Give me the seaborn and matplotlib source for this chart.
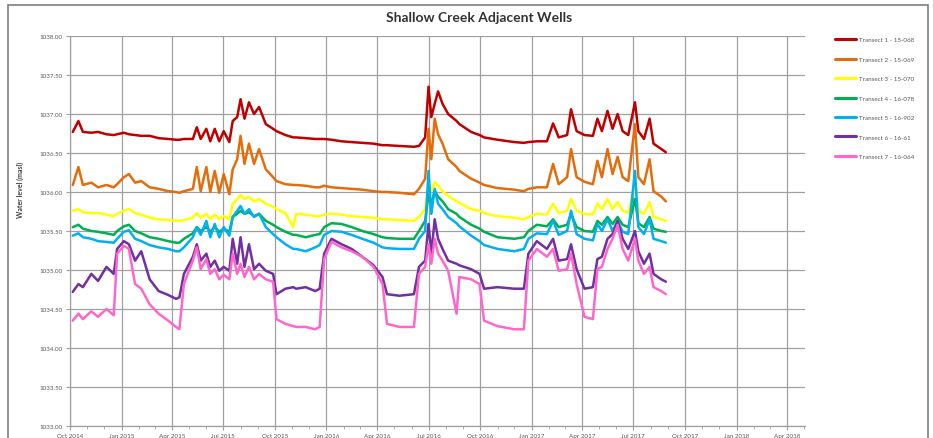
import numpy as np
import pandas as pd
import matplotlib
matplotlib.use("Agg")
import matplotlib.pyplot as plt
import matplotlib.dates as mdates
from matplotlib.ticker import FormatStrFormatter
from matplotlib.patches import Rectangle
import seaborn as sns

dates = [
    "2014-10-06", "2014-10-16", "2014-10-24", "2014-11-08", "2014-11-20", "2014-12-05", "2014-12-18", "2014-12-24",
    "2015-01-05", "2015-01-14", "2015-01-25", "2015-02-05", "2015-02-20", "2015-03-08", "2015-03-25", "2015-04-08",
    "2015-04-14", "2015-04-22", "2015-05-08", "2015-05-15", "2015-05-22", "2015-06-01", "2015-06-08", "2015-06-16",
    "2015-06-24", "2015-07-02", "2015-07-12", "2015-07-18", "2015-07-26", "2015-08-01", "2015-08-08", "2015-08-16",
    "2015-08-25", "2015-09-03", "2015-09-15", "2015-09-28", "2015-10-04", "2015-10-20", "2015-11-03", "2015-11-08",
    "2015-11-25", "2015-12-12", "2015-12-20", "2015-12-28", "2016-01-10", "2016-01-28", "2016-02-15", "2016-03-05",
    "2016-03-25", "2016-04-10", "2016-04-18", "2016-05-10", "2016-06-05", "2016-06-14", "2016-06-25", "2016-07-01",
    "2016-07-06", "2016-07-12", "2016-07-18", "2016-07-26", "2016-08-05", "2016-08-20", "2016-08-25", "2016-09-15",
    "2016-09-30", "2016-10-08", "2016-11-01", "2016-12-01", "2016-12-18", "2016-12-26", "2017-01-10", "2017-01-28",
    "2017-02-08", "2017-02-18", "2017-03-05", "2017-03-12", "2017-03-22", "2017-04-05", "2017-04-20", "2017-04-28",
    "2017-05-06", "2017-05-16", "2017-05-25", "2017-06-03", "2017-06-12", "2017-06-22", "2017-07-04", "2017-07-10",
    "2017-07-20", "2017-07-30", "2017-08-06", "2017-08-20", "2017-08-28",
]

well_1 = [
    1036.77, 1036.91, 1036.77, 1036.76, 1036.77, 1036.74, 1036.73, 1036.74, 1036.76, 1036.74, 1036.73, 1036.72,
    1036.72, 1036.69, 1036.68, 1036.67, 1036.67, 1036.68, 1036.68, 1036.83, 1036.68, 1036.81, 1036.65, 1036.81,
    1036.65, 1036.78, 1036.64, 1036.91, 1036.96, 1037.19, 1036.94, 1037.15, 1037.00, 1037.09, 1036.87, 1036.81,
    1036.78, 1036.73, 1036.70, 1036.70, 1036.69, 1036.68, 1036.68, 1036.68, 1036.67, 1036.65, 1036.64, 1036.63,
    1036.62, 1036.60, 1036.60, 1036.59, 1036.58, 1036.59, 1036.70, 1037.35, 1036.96, 1037.13, 1037.29, 1037.13,
    1037.00, 1036.91, 1036.87, 1036.77, 1036.73, 1036.70, 1036.67, 1036.64, 1036.63, 1036.64, 1036.65, 1036.65,
    1036.88, 1036.70, 1036.73, 1037.06, 1036.78, 1036.73, 1036.72, 1036.94, 1036.78, 1037.04, 1036.81, 1037.00,
    1036.78, 1036.73, 1037.15, 1036.78, 1036.68, 1036.94, 1036.62, 1036.55, 1036.51,
]
well_2 = [
    1036.09, 1036.32, 1036.09, 1036.12, 1036.06, 1036.09, 1036.06, 1036.10, 1036.19, 1036.23, 1036.12, 1036.14,
    1036.06, 1036.04, 1036.01, 1036.00, 1035.99, 1036.01, 1036.04, 1036.32, 1036.01, 1036.32, 1036.00, 1036.27,
    1035.99, 1036.23, 1035.97, 1036.29, 1036.42, 1036.72, 1036.36, 1036.62, 1036.36, 1036.55, 1036.29, 1036.19,
    1036.14, 1036.10, 1036.09, 1036.09, 1036.08, 1036.06, 1036.06, 1036.08, 1036.06, 1036.05, 1036.04, 1036.03,
    1036.01, 1036.00, 1036.00, 1035.99, 1035.97, 1036.04, 1036.17, 1036.81, 1036.42, 1036.94, 1036.74, 1036.62,
    1036.42, 1036.32, 1036.27, 1036.17, 1036.12, 1036.09, 1036.05, 1036.03, 1036.01, 1036.04, 1036.06, 1036.06,
    1036.36, 1036.10, 1036.19, 1036.55, 1036.19, 1036.13, 1036.10, 1036.40, 1036.19, 1036.55, 1036.23, 1036.45,
    1036.19, 1036.14, 1036.87, 1036.19, 1036.10, 1036.42, 1036.01, 1035.94, 1035.88,
]
well_3 = [
    1035.76, 1035.78, 1035.74, 1035.73, 1035.73, 1035.71, 1035.69, 1035.72, 1035.76, 1035.78, 1035.73, 1035.71,
    1035.67, 1035.65, 1035.64, 1035.63, 1035.63, 1035.64, 1035.67, 1035.73, 1035.67, 1035.72, 1035.65, 1035.71,
    1035.65, 1035.69, 1035.65, 1035.85, 1035.91, 1035.96, 1035.91, 1035.94, 1035.88, 1035.91, 1035.85, 1035.81,
    1035.78, 1035.73, 1035.55, 1035.72, 1035.71, 1035.69, 1035.69, 1035.71, 1035.72, 1035.71, 1035.69, 1035.68,
    1035.67, 1035.65, 1035.65, 1035.64, 1035.63, 1035.68, 1035.78, 1036.10, 1036.01, 1036.13, 1036.08, 1036.01,
    1035.95, 1035.88, 1035.86, 1035.78, 1035.76, 1035.73, 1035.69, 1035.67, 1035.65, 1035.68, 1035.72, 1035.71,
    1035.85, 1035.73, 1035.76, 1035.91, 1035.76, 1035.72, 1035.71, 1035.85, 1035.78, 1035.91, 1035.78, 1035.87,
    1035.76, 1035.73, 1036.10, 1035.76, 1035.72, 1035.87, 1035.68, 1035.65, 1035.63,
]
well_4 = [
    1035.55, 1035.58, 1035.53, 1035.50, 1035.49, 1035.47, 1035.45, 1035.50, 1035.56, 1035.58, 1035.50, 1035.47,
    1035.42, 1035.40, 1035.37, 1035.35, 1035.35, 1035.40, 1035.47, 1035.55, 1035.50, 1035.55, 1035.49, 1035.55,
    1035.49, 1035.53, 1035.49, 1035.68, 1035.72, 1035.76, 1035.72, 1035.74, 1035.69, 1035.72, 1035.63, 1035.58,
    1035.55, 1035.49, 1035.45, 1035.45, 1035.42, 1035.45, 1035.46, 1035.55, 1035.60, 1035.59, 1035.55, 1035.50,
    1035.46, 1035.42, 1035.41, 1035.40, 1035.40, 1035.50, 1035.63, 1035.97, 1035.85, 1036.01, 1035.94, 1035.88,
    1035.78, 1035.72, 1035.68, 1035.58, 1035.53, 1035.49, 1035.42, 1035.40, 1035.42, 1035.50, 1035.58, 1035.56,
    1035.65, 1035.55, 1035.58, 1035.72, 1035.55, 1035.50, 1035.49, 1035.63, 1035.58, 1035.68, 1035.59, 1035.68,
    1035.58, 1035.55, 1035.91, 1035.60, 1035.55, 1035.68, 1035.53, 1035.50, 1035.49,
]
well_5 = [
    1035.44, 1035.47, 1035.42, 1035.40, 1035.37, 1035.36, 1035.35, 1035.40, 1035.49, 1035.51, 1035.40, 1035.37,
    1035.32, 1035.29, 1035.27, 1035.24, 1035.24, 1035.29, 1035.42, 1035.55, 1035.45, 1035.63, 1035.42, 1035.59,
    1035.42, 1035.55, 1035.44, 1035.68, 1035.76, 1035.82, 1035.72, 1035.78, 1035.68, 1035.72, 1035.55, 1035.46,
    1035.42, 1035.33, 1035.27, 1035.27, 1035.24, 1035.29, 1035.32, 1035.45, 1035.50, 1035.49, 1035.45, 1035.40,
    1035.35, 1035.29, 1035.28, 1035.27, 1035.27, 1035.40, 1035.50, 1036.27, 1035.72, 1036.04, 1035.85, 1035.78,
    1035.68, 1035.60, 1035.56, 1035.44, 1035.37, 1035.32, 1035.27, 1035.24, 1035.27, 1035.40, 1035.47, 1035.46,
    1035.63, 1035.45, 1035.50, 1035.76, 1035.46, 1035.40, 1035.38, 1035.59, 1035.50, 1035.65, 1035.50, 1035.63,
    1035.49, 1035.46, 1036.27, 1035.55, 1035.46, 1035.65, 1035.40, 1035.37, 1035.35,
]
well_6 = [
    1034.72, 1034.82, 1034.78, 1034.95, 1034.86, 1035.04, 1034.95, 1035.27, 1035.37, 1035.33, 1035.12, 1035.24,
    1034.88, 1034.73, 1034.68, 1034.63, 1034.65, 1034.95, 1035.17, 1035.33, 1035.12, 1035.21, 1035.04, 1035.12,
    1034.99, 1035.04, 1034.99, 1035.40, 1035.08, 1035.42, 1035.04, 1035.33, 1035.01, 1035.08, 1034.99, 1034.95,
    1034.69, 1034.76, 1034.78, 1034.76, 1034.78, 1034.73, 1034.76, 1035.21, 1035.40, 1035.33, 1035.27, 1035.17,
    1035.06, 1034.91, 1034.69, 1034.67, 1034.69, 1035.04, 1035.12, 1035.59, 1035.21, 1035.65, 1035.40, 1035.27,
    1035.12, 1035.08, 1035.06, 1035.01, 1034.95, 1034.76, 1034.78, 1034.76, 1034.76, 1035.21, 1035.37, 1035.27,
    1035.40, 1035.12, 1035.14, 1035.33, 1035.01, 1034.76, 1034.78, 1035.14, 1035.17, 1035.40, 1035.46, 1035.63,
    1035.40, 1035.27, 1035.50, 1035.24, 1035.08, 1035.21, 1034.95, 1034.88, 1034.85,
]
well_7 = [
    1034.35, 1034.44, 1034.37, 1034.47, 1034.40, 1034.50, 1034.42, 1035.21, 1035.31, 1035.27, 1034.82, 1034.76,
    1034.56, 1034.44, 1034.35, 1034.27, 1034.24, 1034.82, 1035.12, 1035.29, 1035.01, 1035.14, 1034.95, 1035.01,
    1034.88, 1034.94, 1034.88, 1035.21, 1034.95, 1035.08, 1034.91, 1035.04, 1034.88, 1034.95, 1034.88, 1034.85,
    1034.37, 1034.31, 1034.28, 1034.27, 1034.27, 1034.24, 1034.27, 1035.14, 1035.36, 1035.29, 1035.24, 1035.17,
    1035.04, 1034.82, 1034.31, 1034.27, 1034.27, 1034.95, 1035.04, 1035.33, 1035.08, 1035.40, 1035.21, 1035.12,
    1034.99, 1034.44, 1034.91, 1034.88, 1034.82, 1034.35, 1034.28, 1034.24, 1034.24, 1035.12, 1035.27, 1035.17,
    1035.27, 1034.99, 1035.01, 1035.21, 1034.82, 1034.40, 1034.37, 1035.01, 1035.04, 1035.27, 1035.40, 1035.58,
    1035.27, 1035.12, 1035.40, 1035.12, 1034.95, 1035.04, 1034.78, 1034.73, 1034.69,
]

labels = [
    "Transect 1 - 15-068", "Transect 2 - 15-069", "Transect 3 - 15-070", "Transect 4 - 16-078",
    "Transect 5 - 16-902", "Transect 6 - 16-61", "Transect 7 - 16-064",
]
colors = ["#C00000", "#E46C0A", "#FFFF00", "#00B050", "#00B0F0", "#7030A0", "#FF66CC"]
y_ticks = [1033.0, 1033.5, 1034.0, 1034.5, 1035.0, 1035.5, 1036.0, 1036.5, 1037.0, 1037.5, 1038.0]

sns.set_style("white")
plt.rcParams["font.family"] = ["Lato", "DejaVu Sans"]

series = [well_1, well_2, well_3, well_4, well_5, well_6, well_7]
frames = []
for lab, vals in zip(labels, series):
    frames.append(pd.DataFrame({"Date": pd.to_datetime(dates), "Level": vals, "Well": lab}))
df = pd.concat(frames, ignore_index=True)

fig = plt.figure(figsize=(9.33, 4.39), dpi=100)
ax = fig.add_axes([70 / 933, 1 - 427 / 439, 735 / 933, 390 / 439])

sns.lineplot(data=df, x="Date", y="Level", hue="Well", palette=colors,
             linewidth=1.8, estimator=None, sort=False, ax=ax)

ax.set_xlim(pd.Timestamp("2014-10-01"), pd.Timestamp("2018-05-03"))
ax.set_ylim(1033.0, 1038.0)
ax.set_yticks(y_ticks)
ax.yaxis.set_major_formatter(FormatStrFormatter("%.2f"))
ax.xaxis.set_major_locator(mdates.MonthLocator(bymonth=[1, 4, 7, 10]))
ax.xaxis.set_minor_locator(mdates.MonthLocator())
ax.xaxis.set_major_formatter(mdates.DateFormatter("%b %Y"))

grid_c = "#a0a0a0"
ax.grid(True, which="major", color=grid_c, linewidth=0.9)
ax.set_axisbelow(True)
for s in ["top", "right"]:
    ax.spines[s].set_visible(False)
for s in ["left", "bottom"]:
    ax.spines[s].set_color(grid_c)
    ax.spines[s].set_linewidth(0.9)
ax.tick_params(axis="both", which="major", labelsize=4.5, labelcolor="#595959",
               color=grid_c, length=3, width=0.8, pad=2, direction="out",
               left=True, bottom=True)
ax.tick_params(axis="x", which="minor", length=2, color=grid_c, width=0.6, bottom=True)
ax.set_xlabel("")
ax.set_ylabel("")

fig.text(0.022, 1 - 190 / 439, "Water level (masl)", rotation=90, ha="center", va="center",
         fontsize=5, fontweight="bold", color="#404040")
fig.text(479 / 933, 1 - 18 / 439, "Shallow Creek Adjacent Wells", ha="center", va="center",
         fontsize=10, fontweight="bold", color="#333333")

handles, labs = ax.get_legend_handles_labels()
ax.get_legend().remove()
leg = fig.legend(handles, labs, loc="upper left", bbox_to_anchor=(835 / 933, 1 - 38 / 439),
                 frameon=False, fontsize=4.5, handlelength=3.4, labelspacing=2.25,
                 handletextpad=0.4, borderpad=0, borderaxespad=0)
for t in leg.get_texts():
    t.set_color("#595959")
for h in leg.get_lines():
    h.set_linewidth(2.2)

fig.patches.append(Rectangle((8 / 933, -0.02), 920 / 933, 1 - 6 / 439 + 0.02,
                             transform=fig.transFigure, fill=False,
                             edgecolor="#7f7f7f", linewidth=1.2))

fig.savefig("out.png", dpi=100)
